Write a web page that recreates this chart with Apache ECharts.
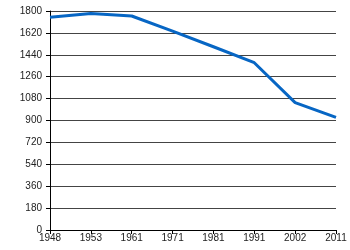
<!DOCTYPE html>
<html><head><meta charset="utf-8">
<script src="https://cdn.jsdelivr.net/npm/echarts@6/dist/echarts.min.js"></script>
<style>html,body{margin:0;padding:0;background:#fff}#c{width:350px;height:250px}</style>
</head><body><div id="c"></div>
<script>
const years = ['1948','1953','1961','1971','1981','1991','2002','2011'];
const values = [1748, 1779, 1759, 1634, 1506, 1375, 1047, 925];
const chart = echarts.init(document.getElementById('c'), null, {renderer:'canvas'});
chart.setOption({
  animation:false,
  grid:{left:50,right:14,top:11,bottom:20,containLabel:false},
  xAxis:{type:'category',data:years,boundaryGap:false,
    axisLine:{lineStyle:{color:'#000',width:1}},
    axisTick:{show:true,length:4,lineStyle:{color:'#000'},alignWithLabel:true},
    axisLabel:{color:'#222',fontSize:10,fontFamily:'Liberation Sans, Arial',margin:3,showMinLabel:true,showMaxLabel:true,interval:0},
    splitLine:{show:false}},
  yAxis:{type:'value',min:0,max:1800,interval:180,
    axisLine:{show:true,lineStyle:{color:'#000',width:1}},
    axisTick:{show:true,length:4,lineStyle:{color:'#000'}},
    axisLabel:{color:'#222',fontSize:10,fontFamily:'Liberation Sans, Arial',margin:8,formatter:v=>String(v)},
    splitLine:{show:true,lineStyle:{color:'#444',width:1}}},
  series:[{type:'line',data:values,symbol:'none',
    lineStyle:{color:'#0766c4',width:3}}]
});
</script></body></html>
